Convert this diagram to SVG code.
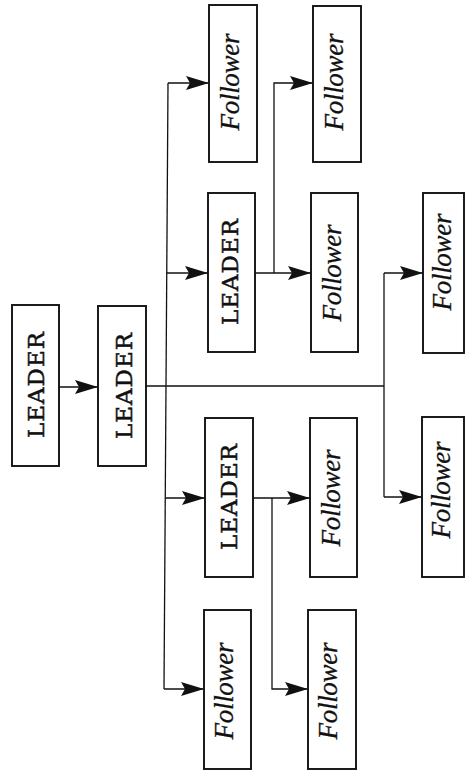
<svg xmlns="http://www.w3.org/2000/svg" width="465" height="773" viewBox="0 0 465 773">
<style>
.box{fill:#fff;stroke:#111;stroke-width:1.9}
.ln{fill:none;stroke:#111;stroke-width:1.3}
.ld{font-family:"DejaVu Serif","Liberation Serif",serif;font-size:23px;fill:#111;stroke:#111;stroke-width:0.5;text-anchor:middle}
.fl{font-family:"Liberation Serif",serif;font-style:italic;font-size:27px;fill:#111;stroke:#111;stroke-width:0.3;text-anchor:middle}
</style>
<defs>
<marker id="ah" viewBox="0 0 23 14" refX="23" refY="7" markerWidth="23" markerHeight="14" markerUnits="userSpaceOnUse" orient="auto">
<path d="M0,0 L23,7 L0,14 L4,7 Z" fill="#111"/>
</marker>
</defs>
<rect width="465" height="773" fill="#fff"/>
<g id="connectors">
<path class="ln" d="M59,387 H98" marker-end="url(#ah)"/>
<path class="ln" d="M146,386 H384"/>
<path class="ln" d="M168,83 L164,689"/>
<path class="ln" d="M168,83 H209" marker-end="url(#ah)"/>
<path class="ln" d="M167,273 H208" marker-end="url(#ah)"/>
<path class="ln" d="M165,498 H205" marker-end="url(#ah)"/>
<path class="ln" d="M164,689 H204" marker-end="url(#ah)"/>
<path class="ln" d="M255,273 H311" marker-end="url(#ah)"/>
<path class="ln" d="M274,273 V83 H313" marker-end="url(#ah)"/>
<path class="ln" d="M253,498 H310" marker-end="url(#ah)"/>
<path class="ln" d="M272,498 V689 H308" marker-end="url(#ah)"/>
<path class="ln" d="M384,273 V497"/>
<path class="ln" d="M384,273 H423" marker-end="url(#ah)"/>
<path class="ln" d="M384,497 H422" marker-end="url(#ah)"/>
</g>
<g id="leader1"><rect class="box" x="12" y="305" width="47" height="161"/><text class="ld" transform="translate(44,385) rotate(-90)" textLength="106" lengthAdjust="spacing">LEADER</text></g>
<g id="leader2"><rect class="box" x="98" y="306" width="48" height="160"/><text class="ld" transform="translate(132,386) rotate(-90)" textLength="106" lengthAdjust="spacing">LEADER</text></g>
<g id="leader3"><rect class="box" x="208" y="193" width="47" height="159"/><text class="ld" transform="translate(238,272) rotate(-90)" textLength="106" lengthAdjust="spacing">LEADER</text></g>
<g id="leader4"><rect class="box" x="205" y="418" width="48" height="159"/><text class="ld" transform="translate(237,497) rotate(-90)" textLength="106" lengthAdjust="spacing">LEADER</text></g>
<g id="follower1"><rect class="box" x="209" y="5" width="48" height="157"/><text class="fl" transform="translate(239,82) rotate(-90)" textLength="97" lengthAdjust="spacing">Follower</text></g>
<g id="follower2"><rect class="box" x="313" y="6" width="48" height="156"/><text class="fl" transform="translate(343,82) rotate(-90)" textLength="97" lengthAdjust="spacing">Follower</text></g>
<g id="follower3"><rect class="box" x="311" y="193" width="47" height="159"/><text class="fl" transform="translate(341,273) rotate(-90)" textLength="97" lengthAdjust="spacing">Follower</text></g>
<g id="follower4"><rect class="box" x="423" y="193" width="41" height="160"/><text class="fl" transform="translate(451,262) rotate(-90)" textLength="97" lengthAdjust="spacing">Follower</text></g>
<g id="follower5"><rect class="box" x="422" y="417" width="42" height="160"/><text class="fl" transform="translate(450,490) rotate(-90)" textLength="97" lengthAdjust="spacing">Follower</text></g>
<g id="follower6"><rect class="box" x="310" y="418" width="47" height="159"/><text class="fl" transform="translate(340,498) rotate(-90)" textLength="97" lengthAdjust="spacing">Follower</text></g>
<g id="follower7"><rect class="box" x="204" y="610" width="47" height="159"/><text class="fl" transform="translate(233,691) rotate(-90)" textLength="97" lengthAdjust="spacing">Follower</text></g>
<g id="follower8"><rect class="box" x="308" y="610" width="48" height="159"/><text class="fl" transform="translate(337,691) rotate(-90)" textLength="97" lengthAdjust="spacing">Follower</text></g>
</svg>
